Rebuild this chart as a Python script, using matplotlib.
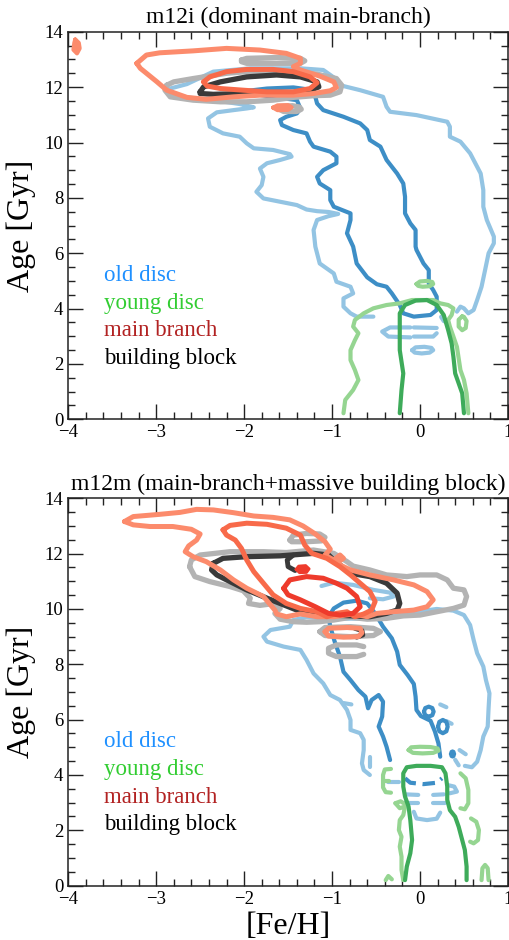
import matplotlib
matplotlib.use("Agg")
import matplotlib.pyplot as plt
from matplotlib.ticker import MultipleLocator

plt.rcParams['font.family'] = ['Liberation Serif', 'DejaVu Serif']
plt.rcParams['axes.unicode_minus'] = True

# ---------------- axes / labels ----------------
titles = ["m12i (dominant main-branch)", "m12m (main-branch+massive building block)"]
x_label = "[Fe/H]"
y_label = "Age [Gyr]"
x_ticks = [-4, -3, -2, -1, 0, 1]
y_ticks = [0, 2, 4, 6, 8, 10, 12, 14]
legend_labels = ["old disc", "young disc", "main branch", "building block"]
legend_colors = ["#1e90ff", "#32cd32", "#b22222", "#000000"]
legend_ages = [5.0, 4.0, 3.0, 2.0]

# ---------------- m12i contours ([Fe/H], Age) ----------------
m12i_old_outer = [(-0.53,3.71),(-0.72,3.71),(-0.79,3.83),(-0.87,4.07),(-0.87,4.37),(-0.76,4.55),(-0.79,4.79),
    (-0.95,4.97),(-0.98,5.27),(-1.14,5.63),(-1.19,6.24),(-1.21,6.84),(-1.17,7.20),(-1.04,7.34),(-0.93,7.42),
    (-1.04,7.49),(-1.17,7.52),(-1.29,7.58),(-1.40,7.74),(-1.59,7.86),(-1.78,7.98),(-1.86,8.22),(-1.80,8.46),
    (-1.78,8.76),(-1.82,9.06),(-1.74,9.25),(-1.59,9.37),(-1.46,9.49),(-1.48,9.58),(-1.67,9.73),(-1.89,9.79),
    (-1.97,9.97),(-2.05,10.21),(-2.24,10.33),(-2.39,10.57),(-2.41,10.87),(-2.31,11.09),(-2.12,11.17),
    (-1.97,11.23),(-1.89,11.27),(-2.05,11.39),(-2.35,11.53),(-2.65,11.63),(-2.82,11.77),(-2.84,11.95),
    (-2.65,12.11),(-2.35,12.56),(-1.93,12.68),(-1.36,12.68),(-1.10,12.62),(-0.98,12.35),(-0.91,12.07),
    (-0.68,11.89),(-0.42,11.65),(-0.38,11.29),(-0.34,11.11),(-0.04,10.99),(0.31,10.75),(0.34,10.57),
    (0.34,10.21),(0.46,10.03),(0.57,9.61),(0.69,8.88),(0.72,8.28),(0.72,7.68),(0.76,7.20),(0.84,6.60),
    (0.84,6.36),(0.78,6.00),(0.74,5.39),(0.70,4.79),(0.65,4.31),(0.61,3.95),(0.55,3.83),(0.50,4.01),
    (0.46,4.07),(0.42,3.89)]
m12i_old_outer_bits = [
    [(0.24,3.70),(0.27,3.55),(0.32,3.50)],
    [(-0.11,3.32),(-0.34,3.32),(-0.43,3.17),(-0.36,2.99),(-0.11,2.96)],
    [(-0.07,3.32),(0.19,3.30)],
    [(-0.07,2.99),(0.15,2.99),(0.19,3.11)],
    [(-0.09,2.50),(-0.05,2.60),(0.05,2.62),(0.13,2.58),(0.15,2.50),(0.11,2.41),(0.02,2.38),(-0.06,2.41),(-0.09,2.50)],
]
m12i_old_inner = [(-1.19,11.65),(-1.17,11.41),(-1.10,11.17),(-0.87,10.93),(-0.68,10.69),(-0.60,10.45),
    (-0.57,10.09),(-0.45,9.85),(-0.38,9.37),(-0.26,8.88),(-0.19,8.52),(-0.17,8.04),(-0.17,7.44),(-0.11,7.08),
    (-0.05,6.84),(-0.05,6.24),(-0.04,6.12),(0.04,5.63),(0.10,5.39),(0.10,4.91),(0.15,4.67),(0.19,4.43),
    (0.19,3.95),(0.12,3.77),(-0.07,3.71),(-0.19,3.83),(-0.23,4.13),(-0.32,4.55),(-0.38,4.79),(-0.49,4.88),
    (-0.60,5.13),(-0.72,5.63),(-0.76,6.24),(-0.83,6.72),(-0.79,7.20),(-0.79,7.44),(-0.98,7.68),(-1.02,7.92),
    (-1.02,8.28),(-1.14,8.52),(-1.17,8.76),(-1.10,9.00),(-0.95,9.25),(-0.95,9.49),(-1.02,9.67),(-1.21,9.85),
    (-1.25,10.03),(-1.29,10.33),(-1.44,10.45),(-1.57,10.63),(-1.59,10.81),(-1.52,10.93),(-1.40,11.05),
    (-1.36,11.23),(-1.40,11.53),(-1.67,11.65),(-1.89,11.75),(-1.95,11.87),(-1.74,11.95),(-1.44,11.99),
    (-1.21,11.89)]
m12i_young_inner = [(-0.23,0.22),(-0.21,1.06),(-0.19,1.66),(-0.23,2.50),(-0.23,3.35),(-0.23,3.83),(-0.17,4.13),
    (-0.05,4.29),(0.08,4.31),(0.19,4.13),(0.27,3.77),(0.32,3.23),(0.36,2.74),(0.38,2.26),(0.40,1.66),
    (0.44,1.30),(0.48,0.94),(0.50,0.22)]
m12i_young_outer = [(-0.87,0.22),(-0.85,0.70),(-0.76,1.06),(-0.70,1.42),(-0.74,1.78),(-0.79,2.14),(-0.79,2.50),
    (-0.74,2.86),(-0.70,3.11),(-0.76,3.35),(-0.74,3.59),(-0.64,3.83),(-0.53,4.01),(-0.38,4.13),(-0.23,4.19),
    (-0.09,4.31),(0.15,4.31),(0.23,4.19),(0.32,4.13),(0.38,4.01),(0.36,3.77),(0.32,3.59),(0.34,3.35),
    (0.38,2.99),(0.42,2.62),(0.46,1.78),(0.50,1.42),(0.53,0.94),(0.55,0.22)]
m12i_young_outer_bits = [
    [(-0.04,4.89),(0.00,4.98),(0.08,5.00),(0.14,4.96),(0.15,4.89),(0.11,4.81),(0.03,4.79),(-0.02,4.82),(-0.04,4.89)],
    [(0.48,3.72),(0.44,3.60),(0.44,3.35),(0.48,3.22),(0.52,3.30),(0.53,3.55),(0.50,3.70),(0.48,3.72)],
]
m12i_bb_outer = [(-2.88,12.07),(-2.80,12.19),(-2.58,12.31),(-2.20,12.50),(-1.97,12.56),(-1.55,12.59),
    (-1.17,12.47),(-0.95,12.31),(-0.89,12.07),(-0.91,11.83),(-1.02,11.71),(-1.21,11.69),(-1.44,11.63),
    (-1.67,11.53),(-1.97,11.47),(-2.27,11.47),(-2.58,11.53),(-2.84,11.65),(-2.90,11.89)]
m12i_bb_outer_bits = [
    [(-2.03,12.98),(-1.97,13.04),(-1.63,13.07),(-1.36,13.04),(-1.31,12.95),(-1.36,12.86),(-1.63,12.86),
     (-1.97,12.86),(-2.03,12.92),(-2.03,12.98)],
    [(-1.60,11.30),(-1.45,11.33),(-1.37,11.28),(-1.35,11.20),(-1.40,11.12),(-1.55,11.12),(-1.60,11.20),(-1.60,11.30)],
]
m12i_bb_inner = [(-2.50,11.83),(-2.46,12.01),(-2.27,12.19),(-1.97,12.37),(-1.63,12.44),(-1.36,12.37),
    (-1.17,12.19),(-1.15,12.01),(-1.29,11.83),(-1.63,11.77),(-2.01,11.77),(-2.35,11.74),(-2.50,11.77)]
m12i_mb_outer = [(-3.22,12.86),(-3.11,13.16),(-2.96,13.24),(-2.58,13.31),(-2.20,13.40),(-1.82,13.34),
    (-1.52,13.22),(-1.36,13.04),(-1.36,12.86),(-1.44,12.74),(-1.36,12.62),(-1.14,12.40),(-0.98,12.19),
    (-0.95,11.99),(-1.02,11.87),(-1.21,11.77),(-1.44,11.71),(-1.82,11.71),(-2.12,11.65),(-2.43,11.56),
    (-2.65,11.63),(-2.88,11.89),(-2.99,12.19),(-3.11,12.50),(-3.18,12.68)]
m12i_mb_outer_blobs = [
    [(-3.92,13.72),(-3.88,13.60),(-3.87,13.40),(-3.90,13.22),(-3.94,13.35),(-3.93,13.60)],
    [(-1.67,11.26),(-1.62,11.34),(-1.50,11.35),(-1.46,11.27),(-1.50,11.18),(-1.62,11.17)],
]
m12i_mb_inner = [(-2.46,12.19),(-2.39,12.37),(-2.20,12.56),(-1.97,12.64),(-1.67,12.64),(-1.44,12.56),
    (-1.25,12.37),(-1.17,12.16),(-1.25,11.95),(-1.44,11.83),(-1.74,11.83),(-2.01,11.89),(-2.27,11.95),
    (-2.42,12.04)]

# ---------------- m12m contours ([Fe/H], Age) ----------------
m12m_old_outer = [(-0.57,4.00),(-0.64,4.18),(-0.66,4.42),(-0.64,4.90),(-0.64,5.27),(-0.68,5.51),(-0.79,5.63),
    (-0.79,5.99),(-0.83,6.35),(-0.91,6.71),(-1.02,6.89),(-1.10,7.31),(-1.21,7.67),(-1.29,8.16),(-1.36,8.52),
    (-1.55,8.64),(-1.74,8.82),(-1.78,9.00),(-1.70,9.24),(-1.48,9.36),(-1.44,9.60),(-1.29,9.70),(-1.00,9.65),
    (-0.60,9.65),(-0.34,9.78),(-0.04,9.90),(0.19,10.00),(0.38,9.94),(0.50,9.78),(0.57,9.42),(0.61,8.88),
    (0.65,8.40),(0.72,7.92),(0.75,7.43),(0.79,6.95),(0.78,6.41),(0.77,5.75),(0.72,5.39),(0.69,4.90),
    (0.65,4.48),(0.59,4.28),(0.51,4.33)]
m12m_old_outer_bits = [
    [(-1.12,10.83),(-0.98,10.95),(-0.76,10.87),(-0.53,10.69),(-0.34,10.59),(-0.30,10.45),(-0.42,10.35),(-0.57,10.39)],
    [(-0.36,3.75),(-0.24,3.75)],
    [(-0.17,3.30),(-0.02,3.28)],
    [(0.15,3.28),(0.27,3.30)],
    [(-0.17,2.98),(-0.02,2.98)],
    [(0.15,2.98),(0.29,2.98)],
    [(-0.07,2.67),(-0.04,2.43),(0.08,2.37),(0.19,2.42),(0.23,2.64)],
    [(0.31,3.64),(0.39,3.58),(0.42,3.40),(0.34,3.34)],
    [(0.45,4.90),(0.52,4.75)],
    [(0.40,4.55),(0.44,4.35)],
    [(0.30,5.95),(0.36,5.85)],
    [(-0.57,4.66),(-0.57,4.30)],
    [(-0.87,6.60),(-0.78,6.55)],
    [(0.23,6.55),(0.30,6.45)],
]
m12m_old_inner = [(-0.34,4.54),(-0.38,5.02),(-0.42,5.39),(-0.47,5.75),(-0.43,6.11),(-0.42,6.65),(-0.47,6.89),
    (-0.55,6.71),(-0.59,6.41),(-0.62,6.83),(-0.70,7.07),(-0.79,7.43),(-0.87,7.73),(-0.91,8.28),(-0.97,8.82),
    (-1.02,9.36),(-1.04,9.72),(-0.98,10.02),(-0.87,10.23),(-0.72,10.30),(-0.60,10.20),(-0.51,9.84),
    (-0.42,9.36),(-0.32,8.94),(-0.26,8.46),(-0.23,7.98),(-0.14,7.61),(-0.07,7.29),(-0.05,6.83),(-0.04,6.35),
    (0.01,6.13),(0.12,5.96),(0.17,5.57),(0.21,5.14),(0.23,4.66)]
m12m_old_inner_loops = [
    [(0.045,6.29),(0.06,6.42),(0.10,6.47),(0.14,6.42),(0.155,6.29),(0.14,6.16),(0.10,6.11),(0.06,6.16),(0.045,6.29)],
    [(0.205,5.75),(0.22,5.92),(0.26,5.99),(0.30,5.92),(0.315,5.75),(0.30,5.58),(0.26,5.51),(0.22,5.58),(0.205,5.75)],
]
m12m_old_inner_dot = [(0.34,4.76),(0.35,4.86),(0.37,4.89),(0.39,4.86),(0.40,4.76),(0.39,4.66),(0.37,4.63),(0.35,4.66)]
m12m_old_inner_arc = [(-0.17,3.88),(-0.11,3.72),(0.04,3.67),(0.19,3.72),(0.25,3.88)]
m12m_young_inner = [(-0.17,0.20),(-0.15,0.69),(-0.11,1.17),(-0.09,1.65),(-0.11,2.37),(-0.13,2.86),(-0.17,3.22),
    (-0.19,3.58),(-0.19,4.06),(-0.15,4.28),(-0.04,4.33),(0.12,4.33),(0.25,4.28),(0.29,4.06),(0.31,3.58),
    (0.31,3.10),(0.34,2.73),(0.40,2.49),(0.44,2.13),(0.48,1.65),(0.51,1.29),(0.53,0.69),(0.53,0.20)]
m12m_young_outer_bits = [
    [(-0.13,4.90),(-0.10,5.00),(0.00,5.02),(0.12,5.01),(0.20,4.96),(0.21,4.88),(0.15,4.80),(0.03,4.78),(-0.08,4.80),(-0.13,4.90)],
    [(-0.33,4.22),(-0.40,4.20),(-0.42,4.00),(-0.42,3.55),(-0.39,3.38),(-0.33,3.36)],
    [(-0.42,3.80),(-0.35,3.80)],
    [(-0.28,2.98),(-0.23,2.80),(-0.17,2.86),(-0.19,2.55),(-0.23,2.37),(-0.24,2.01),(-0.21,1.77),
     (-0.23,1.41),(-0.21,1.05),(-0.21,0.57),(-0.19,0.20)],
    [(-0.28,2.98),(-0.22,3.05),(-0.17,2.95)],
    [(0.46,4.06),(0.52,3.88),(0.55,3.46),(0.55,2.98),(0.51,2.76),(0.46,2.80)],
    [(0.58,2.43),(0.64,2.31),(0.67,2.01),(0.66,1.65),(0.61,1.53),(0.57,1.59)],
    [(0.70,0.20),(0.71,0.63),(0.74,0.75),(0.77,0.63),(0.78,0.20)],
    [(-0.39,0.20),(-0.36,0.35),(-0.32,0.23)],
]
m12m_bb_outer = [(-2.62,11.53),(-2.60,11.77),(-2.50,11.95),(-2.16,12.07),(-1.78,12.07),(-1.52,12.04),
    (-1.21,12.13),(-0.98,12.01),(-0.83,11.71),(-0.76,11.55),(-0.57,11.41),(-0.38,11.23),(-0.15,11.17),
    (0.00,11.23),(0.19,11.23),(0.31,11.05),(0.38,10.75),(0.50,10.69),(0.53,10.45),(0.50,10.14),(0.38,10.02),
    (0.19,9.90),(0.00,9.78),(-0.19,9.75),(-0.38,9.66),(-0.60,9.63),(-0.79,9.70),(-0.98,9.60),(-1.14,9.54),
    (-1.29,9.52),(-1.44,9.54),(-1.59,9.63),(-1.65,9.84),(-1.59,10.02),(-1.70,10.18),(-1.82,10.13),
    (-1.95,10.20),(-1.93,10.39),(-2.01,10.66),(-2.16,10.81),(-2.39,10.99),(-2.56,11.17)]
m12m_bb_outer_bits = [
    [(-1.48,12.49),(-1.44,12.67),(-1.29,12.73),(-1.14,12.71),(-1.08,12.59),(-1.12,12.46),(-1.29,12.43),(-1.46,12.43),(-1.48,12.49)],
    [(-1.14,9.18),(-1.08,9.33),(-0.79,9.36),(-0.53,9.30),(-0.45,9.18),(-0.53,9.04),(-0.79,9.00),(-1.08,9.04),(-1.14,9.18)],
    [(-0.64,8.64),(-0.72,8.70),(-0.95,8.70),(-1.04,8.58),(-1.04,8.40),(-0.95,8.28),(-0.72,8.28),(-0.64,8.36)],
]
m12m_bb_inner = [(-2.35,11.65),(-2.24,11.83),(-1.97,11.89),(-1.59,11.92),(-1.21,12.01),(-1.04,11.95),
    (-0.98,11.77),(-0.79,11.29),(-0.57,11.17),(-0.38,10.93),(-0.26,10.57),(-0.23,10.20),(-0.26,9.96),
    (-0.38,9.84),(-0.57,9.72),(-0.76,9.75),(-1.02,9.78),(-1.21,9.84),(-1.40,9.96),(-1.59,10.20),
    (-1.74,10.39),(-1.97,10.69),(-2.16,10.99),(-2.31,11.23),(-2.37,11.41)]
m12m_bb_inner_bits = [
    [(-1.44,11.95),(-1.51,11.77),(-1.50,11.53),(-1.42,11.39)],
    [(-0.74,9.30),(-0.66,9.22),(-0.65,9.06),(-0.72,8.98)],
]
m12m_mb_outer = [(-3.36,13.16),(-3.26,13.34),(-2.96,13.42),(-2.73,13.49),(-2.54,13.60),(-2.35,13.58),
    (-2.12,13.48),(-1.89,13.36),(-1.67,13.31),(-1.48,13.22),(-1.33,13.00),(-1.19,12.71),(-1.08,12.43),
    (-1.02,12.16),(-1.08,11.95),(-0.98,11.77),(-0.91,11.95),(-0.87,11.83),(-0.95,11.65),(-0.79,11.41),
    (-0.57,11.23),(-0.30,11.05),(-0.07,10.87),(0.08,10.63),(0.15,10.33),(0.08,10.08),(-0.07,9.96),
    (-0.30,9.90),(-0.49,9.84),(-0.60,9.72),(-0.76,9.82),(-0.98,9.72),(-1.17,9.72),(-1.36,9.82),(-1.52,9.72),
    (-1.63,9.82),(-1.65,9.96),(-1.78,10.45),(-1.97,10.75),(-2.12,11.05),(-2.27,11.41),(-2.43,11.71),
    (-2.58,11.89),(-2.67,12.07),(-2.63,12.28),(-2.54,12.49),(-2.50,12.71),(-2.60,12.88),(-2.81,12.98),
    (-3.07,12.98),(-3.26,13.04)]
m12m_mb_outer_bits = [
    [(-1.08,9.18),(-1.04,9.30),(-0.83,9.33),(-0.68,9.30),(-0.66,9.14),(-0.70,9.00),(-0.87,8.98),(-1.04,9.02),(-1.08,9.18)],
]
m12m_mb_mid = [(-2.24,12.86),(-2.16,13.02),(-1.97,13.10),(-1.74,13.06),(-1.52,12.92),(-1.36,12.67),
    (-1.31,12.31),(-1.23,12.01),(-1.06,11.83),(-0.91,11.53),(-0.79,11.23),(-0.68,10.93),(-0.57,10.63),
    (-0.51,10.27),(-0.55,9.96),(-0.64,9.82),(-0.74,9.72),(-0.83,9.90),(-0.95,9.84),(-1.06,9.72),
    (-1.17,9.90),(-1.36,10.02),(-1.52,10.20),(-1.67,10.51),(-1.78,10.93),(-1.89,11.35),(-1.97,11.77),
    (-2.03,12.19),(-2.10,12.49),(-2.20,12.67)]
m12m_mb_inner = [(-1.55,10.75),(-1.48,11.05),(-1.29,11.17),(-1.10,11.11),(-0.95,10.93),(-0.83,10.75),
    (-0.72,10.45),(-0.68,10.08),(-0.76,9.84),(-0.91,9.78),(-1.04,9.84),(-1.19,10.08),(-1.36,10.33),(-1.50,10.51)]
m12m_mb_inner_dot = [(-1.41,11.43),(-1.38,11.55),(-1.30,11.57),(-1.26,11.45),(-1.29,11.32),(-1.37,11.31)]

# ---------------- colours ----------------
c_old_out, c_old_in = "#93c4e3", "#3d8ec6"
c_yng_out, c_yng_in = "#95d591", "#3eab5a"
c_bb_out, c_bb_in = "#b3b3b3", "#3a3a3a"
c_mb_out, c_mb_mid, c_mb_in = "#fc8b6c", "#f86a4a", "#ee3b2c"


def line(ax, pts, color, lw=3.0, closed=False, fill=False, ls="-", z=2):
    xs = [p[0] for p in pts]
    ys = [p[1] for p in pts]
    if closed:
        xs.append(xs[0]); ys.append(ys[0])
    ax.plot(xs, ys, color=color, lw=lw, ls=ls, solid_capstyle="round",
            solid_joinstyle="round", dash_capstyle="butt", zorder=z)
    if fill:
        ax.fill(xs, ys, color=color, lw=0, zorder=z)


fig = plt.figure(figsize=(5.09, 9.40), dpi=100)
ax1 = fig.add_axes([0.134, 0.5539, 0.8639, 0.4123])
ax2 = fig.add_axes([0.134, 0.0578, 0.8639, 0.4121])

# ---- m12i ----
line(ax1, m12i_old_outer, c_old_out)
for b in m12i_old_outer_bits:
    line(ax1, b, c_old_out)
line(ax1, m12i_old_inner, c_old_in, closed=True)
line(ax1, m12i_young_outer, c_yng_out, z=3)
for b in m12i_young_outer_bits:
    line(ax1, b, c_yng_out, z=3)
line(ax1, m12i_young_inner, c_yng_in, z=3)
line(ax1, m12i_bb_outer, c_bb_out, lw=3.8, closed=True, z=4)
for b in m12i_bb_outer_bits:
    line(ax1, b, c_bb_out, lw=3.8, z=4)
line(ax1, m12i_bb_inner, c_bb_in, lw=3.8, closed=True, z=5)
line(ax1, m12i_mb_outer, c_mb_out, lw=3.6, closed=True, z=6)
for b in m12i_mb_outer_blobs:
    line(ax1, b, c_mb_out, lw=3.0, closed=True, fill=True, z=6)
line(ax1, m12i_mb_inner, c_mb_mid, lw=3.6, closed=True, z=7)

# ---- m12m ----
line(ax2, m12m_old_outer, c_old_out)
for b in m12m_old_outer_bits:
    line(ax2, b, c_old_out)
line(ax2, m12m_old_inner, c_old_in)
for b in m12m_old_inner_loops:
    line(ax2, b, c_old_in)
line(ax2, m12m_old_inner_dot, c_old_in, lw=1.5, closed=True, fill=True)
line(ax2, m12m_old_inner_arc, c_old_in, ls=(0, (3.0, 1.6)))
for b in m12m_young_outer_bits:
    line(ax2, b, c_yng_out, z=3)
line(ax2, m12m_young_inner, c_yng_in, z=3)
line(ax2, m12m_bb_outer, c_bb_out, lw=3.8, closed=True, z=4)
for b in m12m_bb_outer_bits:
    line(ax2, b, c_bb_out, lw=3.8, z=4)
line(ax2, m12m_bb_inner, c_bb_in, lw=3.8, closed=True, z=5)
for b in m12m_bb_inner_bits:
    line(ax2, b, c_bb_in, lw=3.5, z=5)
line(ax2, m12m_mb_outer, c_mb_out, lw=3.6, closed=True, z=6)
for b in m12m_mb_outer_bits:
    line(ax2, b, c_mb_out, lw=3.6, z=6)
line(ax2, m12m_mb_mid, c_mb_mid, lw=3.6, closed=True, z=7)
line(ax2, m12m_mb_inner, c_mb_in, lw=3.6, closed=True, z=8)
line(ax2, m12m_mb_inner_dot, c_mb_in, lw=2.0, closed=True, fill=True, z=8)

for ax, title in zip([ax1, ax2], titles):
    ax.set_xlim(-4, 1)
    ax.set_ylim(0, 14)
    ax.set_xticks(x_ticks)
    ax.set_xticklabels(["\u2212%d" % -t if t < 0 else "%d" % t for t in x_ticks])
    ax.set_yticks(y_ticks)
    ax.xaxis.set_minor_locator(MultipleLocator(0.2))
    ax.yaxis.set_minor_locator(MultipleLocator(0.5))
    ax.tick_params(which="both", direction="in", top=True, right=True, labelsize=13.5,
                   width=1.0, color="#222222")
    ax.tick_params(which="major", length=10.5, pad=3.5)
    ax.tick_params(which="minor", length=5)
    for s in ax.spines.values():
        s.set_linewidth(1.1)
        s.set_color("#222222")
    ax.set_title(title, fontsize=17, pad=6)
    ax.set_ylabel(y_label, fontsize=23)
    ax.yaxis.set_label_coords(-0.074, 0.5)
    for lab, col, age in zip(legend_labels, legend_colors, legend_ages):
        ax.text(-3.59, age, lab, color=col, fontsize=16.5, ha="left", va="baseline", zorder=10)

ax2.set_xlabel(x_label, fontsize=23)
ax2.xaxis.set_label_coords(0.5, -0.068)

fig.savefig("out.png", dpi=100)
